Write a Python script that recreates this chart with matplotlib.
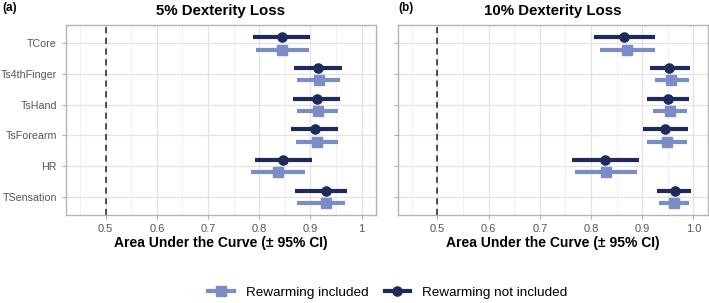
import numpy as np
import matplotlib
matplotlib.use("Agg")
import matplotlib.pyplot as plt
from matplotlib.lines import Line2D

plt.rcParams["font.family"] = ["Liberation Sans", "DejaVu Sans"]

# categories, top to bottom
predictors = ["TCore", "Ts4thFinger", "TsHand", "TsForearm", "HR", "TSensation"]

# 5% dexterity loss: AUC estimate, lower, upper
a_incl_auc = [0.844, 0.916, 0.914, 0.912, 0.837, 0.930]
a_incl_lo = [0.793, 0.874, 0.874, 0.872, 0.783, 0.873]
a_incl_hi = [0.897, 0.957, 0.954, 0.953, 0.889, 0.967]
a_excl_auc = [0.844, 0.914, 0.912, 0.909, 0.847, 0.931]
a_excl_lo = [0.787, 0.867, 0.865, 0.862, 0.792, 0.870]
a_excl_hi = [0.900, 0.961, 0.957, 0.954, 0.903, 0.972]

# 10% dexterity loss
b_incl_auc = [0.871, 0.957, 0.954, 0.948, 0.829, 0.961]
b_incl_lo = [0.818, 0.925, 0.920, 0.909, 0.769, 0.933]
b_incl_hi = [0.925, 0.991, 0.988, 0.987, 0.890, 0.991]
b_excl_auc = [0.865, 0.953, 0.950, 0.945, 0.828, 0.963]
b_excl_lo = [0.806, 0.915, 0.910, 0.901, 0.762, 0.929]
b_excl_hi = [0.925, 0.994, 0.991, 0.990, 0.894, 0.996]

xticks = [0.5, 0.6, 0.7, 0.8, 0.9, 1.0]

LIGHT = "#7b8dc6"
DARK = "#1f2a5a"
GRID = "#e3e3e3"
BORDER = "#b3b3b3"


def panel(ax, incl, excl, title, xticklabels):
    n = len(predictors)
    y = np.arange(n)[::-1] + 1.0
    for (est, lo, hi), off, col, mk, ms in [
        (incl, 0.2, LIGHT, "s", 6.6),
        (excl, -0.2, DARK, "o", 6.6),
    ]:
        est = np.array(est); lo = np.array(lo); hi = np.array(hi)
        ax.errorbar(est, y - off, xerr=[est - lo, hi - est], fmt=mk, color=col,
                    ms=ms, elinewidth=3.0, capsize=0, zorder=3)
    ax.axvline(0.5, color="#222222", ls=(0, (4, 3)), lw=1.1, zorder=2)
    ax.set_xlim(0.4225, 1.0275)
    ax.set_ylim(0.4, n + 0.6)
    ax.set_xticks(xticks)
    ax.set_xticklabels(xticklabels)
    ax.set_xticks(np.arange(0.45, 1.01, 0.1), minor=True)
    ax.set_yticks(y)
    ax.set_yticklabels(predictors)
    ax.grid(True, which="major", color=GRID, lw=0.9, zorder=0)
    ax.grid(True, which="minor", axis="x", color="#eeeeee", lw=0.6, zorder=0)
    ax.set_axisbelow(True)
    for s in ax.spines.values():
        s.set_color(BORDER)
        s.set_linewidth(1.0)
    ax.tick_params(which="major", colors=BORDER, labelcolor="#555555",
                   labelsize=8, length=3)
    ax.tick_params(axis="y", labelsize=7.7)
    ax.tick_params(which="minor", length=0)
    ax.set_xlabel("Area Under the Curve (± 95% CI)", fontsize=10,
                  fontweight="bold", labelpad=1.5)
    ax.set_title(title, fontsize=10.8, fontweight="bold", pad=7)
    return ax


fig = plt.figure(figsize=(7.09, 3.03), dpi=100)
ax1 = fig.add_axes([0.093, 0.29, 0.437, 0.6275])
ax2 = fig.add_axes([0.561, 0.29, 0.437, 0.6275])

panel(ax1, (a_incl_auc, a_incl_lo, a_incl_hi), (a_excl_auc, a_excl_lo, a_excl_hi),
      "5% Dexterity Loss", ["0.5", "0.6", "0.7", "0.8", "0.9", "1"])
panel(ax2, (b_incl_auc, b_incl_lo, b_incl_hi), (b_excl_auc, b_excl_lo, b_excl_hi),
      "10% Dexterity Loss", ["0.5", "0.6", "0.7", "0.8", "0.9", "1.0"])
ax2.set_yticklabels([])

fig.text(0.004, 0.972, "(a)", fontsize=8.5, fontweight="bold", va="center")
fig.text(0.562, 0.972, "(b)", fontsize=8.5, fontweight="bold", va="center")

handles = [
    Line2D([], [], color=LIGHT, lw=3, marker="s", ms=6.6),
    Line2D([], [], color=DARK, lw=3, marker="o", ms=6.6),
]
fig.legend(handles, ["Rewarming included", "Rewarming not included"],
           loc="center", bbox_to_anchor=(0.547, 0.035), ncol=2, frameon=False,
           fontsize=9.7, handlelength=1.9, columnspacing=1.2, handletextpad=0.9)

fig.savefig("out.png", dpi=100)
